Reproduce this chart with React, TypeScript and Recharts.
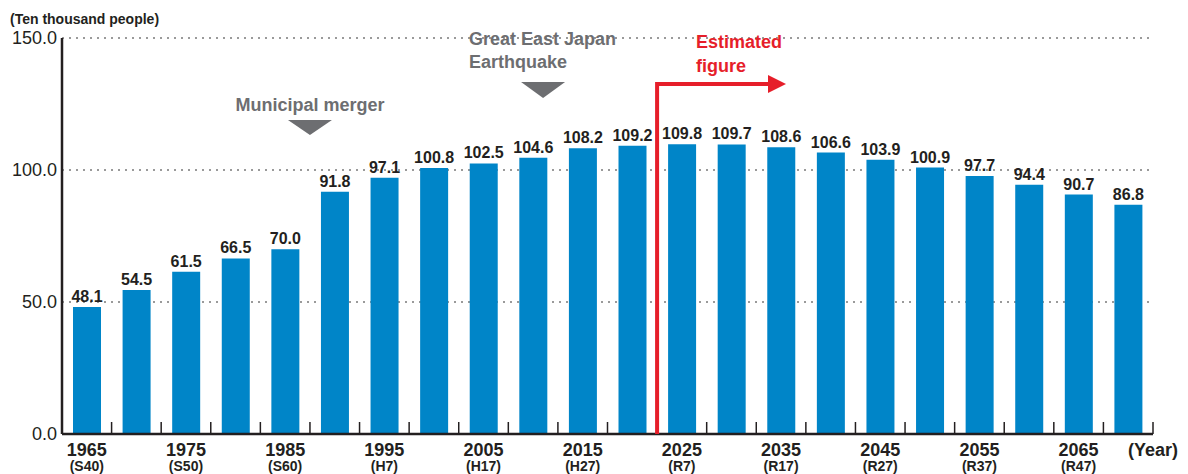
import React from 'react';
import { BarChart, Bar, XAxis, YAxis, CartesianGrid, LabelList } from 'recharts';

const years = [
  '1965', '1970', '1975', '1980', '1985', '1990', '1995', '2000', '2005', '2010', '2015',
  '2020', '2025', '2030', '2035', '2040', '2045', '2050', '2055', '2060', '2065', '2070',
];
const eras = [
  'S40', 'S45', 'S50', 'S55', 'S60', 'H2', 'H7', 'H12', 'H17', 'H22', 'H27',
  'R2', 'R7', 'R12', 'R17', 'R22', 'R27', 'R32', 'R37', 'R42', 'R47', 'R52',
];
const population = [
  48.1, 54.5, 61.5, 66.5, 70.0, 91.8, 97.1, 100.8, 102.5, 104.6, 108.2,
  109.2, 109.8, 109.7, 108.6, 106.6, 103.9, 100.9, 97.7, 94.4, 90.7, 86.8,
];
const yTicks = [0, 50, 100, 150];

const data = years.map((year, i) => ({ year, era: eras[i], value: population[i] }));

const W = 1188;
const H = 474;
const PLOT_LEFT = 62;
const PLOT_RIGHT = 1153;
const PLOT_TOP = 38;
const PLOT_BOTTOM = 434;
const STEP = (PLOT_RIGHT - PLOT_LEFT) / years.length;
const FONT = '"Liberation Sans", Arial, Helvetica, sans-serif';
const DARK = '#231f20';
const GRAY = '#6d6e71';
const RED = '#e61e2a';

// x position of a (fractional) year on the category band scale
const xOfYear = (year: number) => PLOT_LEFT + STEP * ((year - 1965) / 5 + 0.5);

const YearTick = (props: any) => {
  const { x, y, payload } = props;
  const i = payload.index;
  return (
    <g>
      <line x1={x + STEP / 2} x2={x + STEP / 2} y1={y} y2={y - 12} stroke={DARK} strokeWidth={1.5} />
      {i % 2 === 0 && (
        <>
          <text x={x} y={y + 22} textAnchor="middle" fontSize={18} fontWeight="bold" fill={DARK} fontFamily={FONT}>
            {payload.value}
          </text>
          <text x={x} y={y + 37} textAnchor="middle" fontSize={14} fontWeight="bold" fill={DARK} fontFamily={FONT}>
            {`(${eras[i]})`}
          </text>
        </>
      )}
    </g>
  );
};

export default function App() {
  const merger = xOfYear(1987.5);
  const quake = xOfYear(2011);
  const estimate = xOfYear(2022.5);

  return (
    <div style={{ position: 'absolute', left: 0, top: 0, width: W, height: H, background: '#fff' }}>
      <BarChart
        width={W}
        height={H}
        data={data}
        margin={{ top: PLOT_TOP, right: W - PLOT_RIGHT, bottom: 0, left: 0 }}
        barSize={28}
      >
        <CartesianGrid vertical={false} stroke="#9a9a9a" strokeWidth={2} strokeDasharray="2 5" />
        <XAxis
          dataKey="year"
          interval={0}
          height={H - PLOT_BOTTOM}
          tickSize={0}
          tickMargin={0}
          axisLine={{ stroke: DARK, strokeWidth: 2.5 }}
          tick={<YearTick />}
        />
        <YAxis
          width={PLOT_LEFT}
          domain={[0, 150]}
          ticks={yTicks}
          tickSize={0}
          tickMargin={5}
          tickFormatter={(v: number) => v.toFixed(1)}
          axisLine={{ stroke: DARK, strokeWidth: 2.5 }}
          tick={{ fontSize: 18, fill: DARK, fontFamily: FONT }}
        />
        <Bar dataKey="value" fill="#0085c8" isAnimationActive={false}>
          <LabelList
            dataKey="value"
            position="top"
            offset={5}
            formatter={(v: number) => v.toFixed(1)}
            style={{ fontSize: 16, fontWeight: 'bold', fill: DARK, fontFamily: FONT }}
          />
        </Bar>
      </BarChart>

      <svg width={W} height={H} style={{ position: 'absolute', left: 0, top: 0, pointerEvents: 'none' }}>
        <text x={10} y={24} fontSize={14} fontWeight="bold" fill={DARK} fontFamily={FONT}>
          (Ten thousand people)
        </text>

        <text x={merger} y={111} textAnchor="middle" fontSize={18} fontWeight="bold" fill={GRAY} fontFamily={FONT}>
          Municipal merger
        </text>
        <polygon points={`${merger - 22},120 ${merger + 22},120 ${merger},135`} fill={GRAY} />

        <text x={469} y={45} fontSize={18} fontWeight="bold" fill={GRAY} fontFamily={FONT}>
          Great East Japan
        </text>
        <text x={469} y={68} fontSize={18} fontWeight="bold" fill={GRAY} fontFamily={FONT}>
          Earthquake
        </text>
        <polygon points={`${quake - 22},82 ${quake + 22},82 ${quake},98`} fill={GRAY} />

        <path d={`M${estimate},${PLOT_BOTTOM} V84 H770`} stroke={RED} strokeWidth={4} fill="none" />
        <polygon points="768,75 786,84 768,93" fill={RED} />
        <text x={696} y={48} fontSize={18} fontWeight="bold" fill={RED} fontFamily={FONT}>
          Estimated
        </text>
        <text x={696} y={72} fontSize={18} fontWeight="bold" fill={RED} fontFamily={FONT}>
          figure
        </text>

        <text x={1128} y={456} fontSize={18} fontWeight="bold" fill={DARK} fontFamily={FONT}>
          (Year)
        </text>
      </svg>
    </div>
  );
}
